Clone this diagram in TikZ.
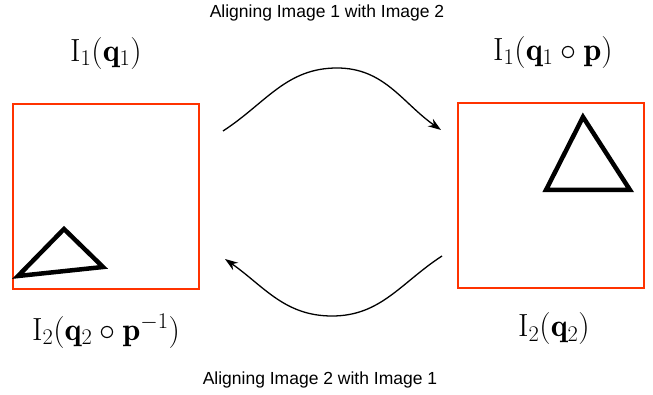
\RequirePackage{fix-cm}
\documentclass[tikz,border=0pt]{standalone}
\usepackage{fontspec}
\newfontfamily\titlefont{Liberation Sans}
\usetikzlibrary{arrows.meta, positioning}

\definecolor{boxred}{RGB}{255,51,0}

\begin{document}
\begin{tikzpicture}[
    x=1pt, y=1pt,
    node distance = 22pt,
    imgbox/.style = {
        draw=boxred,
        line width=1.5pt,
        minimum width=186pt,
        minimum height=185pt,
        inner sep=0pt
    },
    trishape/.style = {
        line width=4.5pt,
        line join=miter
    },
    eqlabel/.style = {
        font=\fontsize{32}{38}\selectfont,
        inner sep=0pt
    },
    caption/.style = {
        font=\titlefont\fontsize{17.5}{21}\selectfont,
        inner sep=0pt
    },
    arrow/.style = {-{Stealth[length=13pt, width=9pt]}, line width=1.3pt}
]

\useasboundingbox (0,0) rectangle (653,394);

%% ── Imagenes ────────────────────────────────────────────────────────────────

\node[imgbox] (img1) at (106,197.5) {};
\node[imgbox] (img2) at (551,198.5) {};

\draw[trishape] (18,118) -- (64,165) -- (103,127) -- cycle;
\draw[trishape] (583,277) -- (546,204) -- (630,204) -- cycle;

%% ── Etiquetas ───────────────────────────────────────────────────────────────

\node[eqlabel, above=34pt of img1]            (lab1) {$\mathrm{I}_1(\mathbf{q}_1)$};
\node[eqlabel, above=34pt of img2, xshift=2pt] (lab2) {$\mathrm{I}_1(\mathbf{q}_1\circ\mathbf{p})$};
\node[eqlabel, below=24pt of img1]            (lab3) {$\mathrm{I}_2(\mathbf{q}_2\circ\mathbf{p}^{-1})$};
\node[eqlabel, below=24pt of img2, xshift=3pt] (lab4) {$\mathrm{I}_2(\mathbf{q}_2)$};

\node[caption] (top) at (327,381) {Aligning Image 1 with Image 2};
\node[caption] (bot) at (320,14)  {Aligning Image 2 with Image 1};

%% ── Flechas ─────────────────────────────────────────────────────────────────

\coordinate (a1) at (223,263);
\coordinate (a2) at (441,264);
\coordinate (b1) at (442,138);
\coordinate (b2) at (225,135);

\draw[arrow] (a1) to[out=33, in=180] (337,326) to[out=0, in=145] (a2);
\draw[arrow] (b1) to[out=213, in=0] (332,78) to[out=180, in=-35] (b2);

\end{tikzpicture}
\end{document}
